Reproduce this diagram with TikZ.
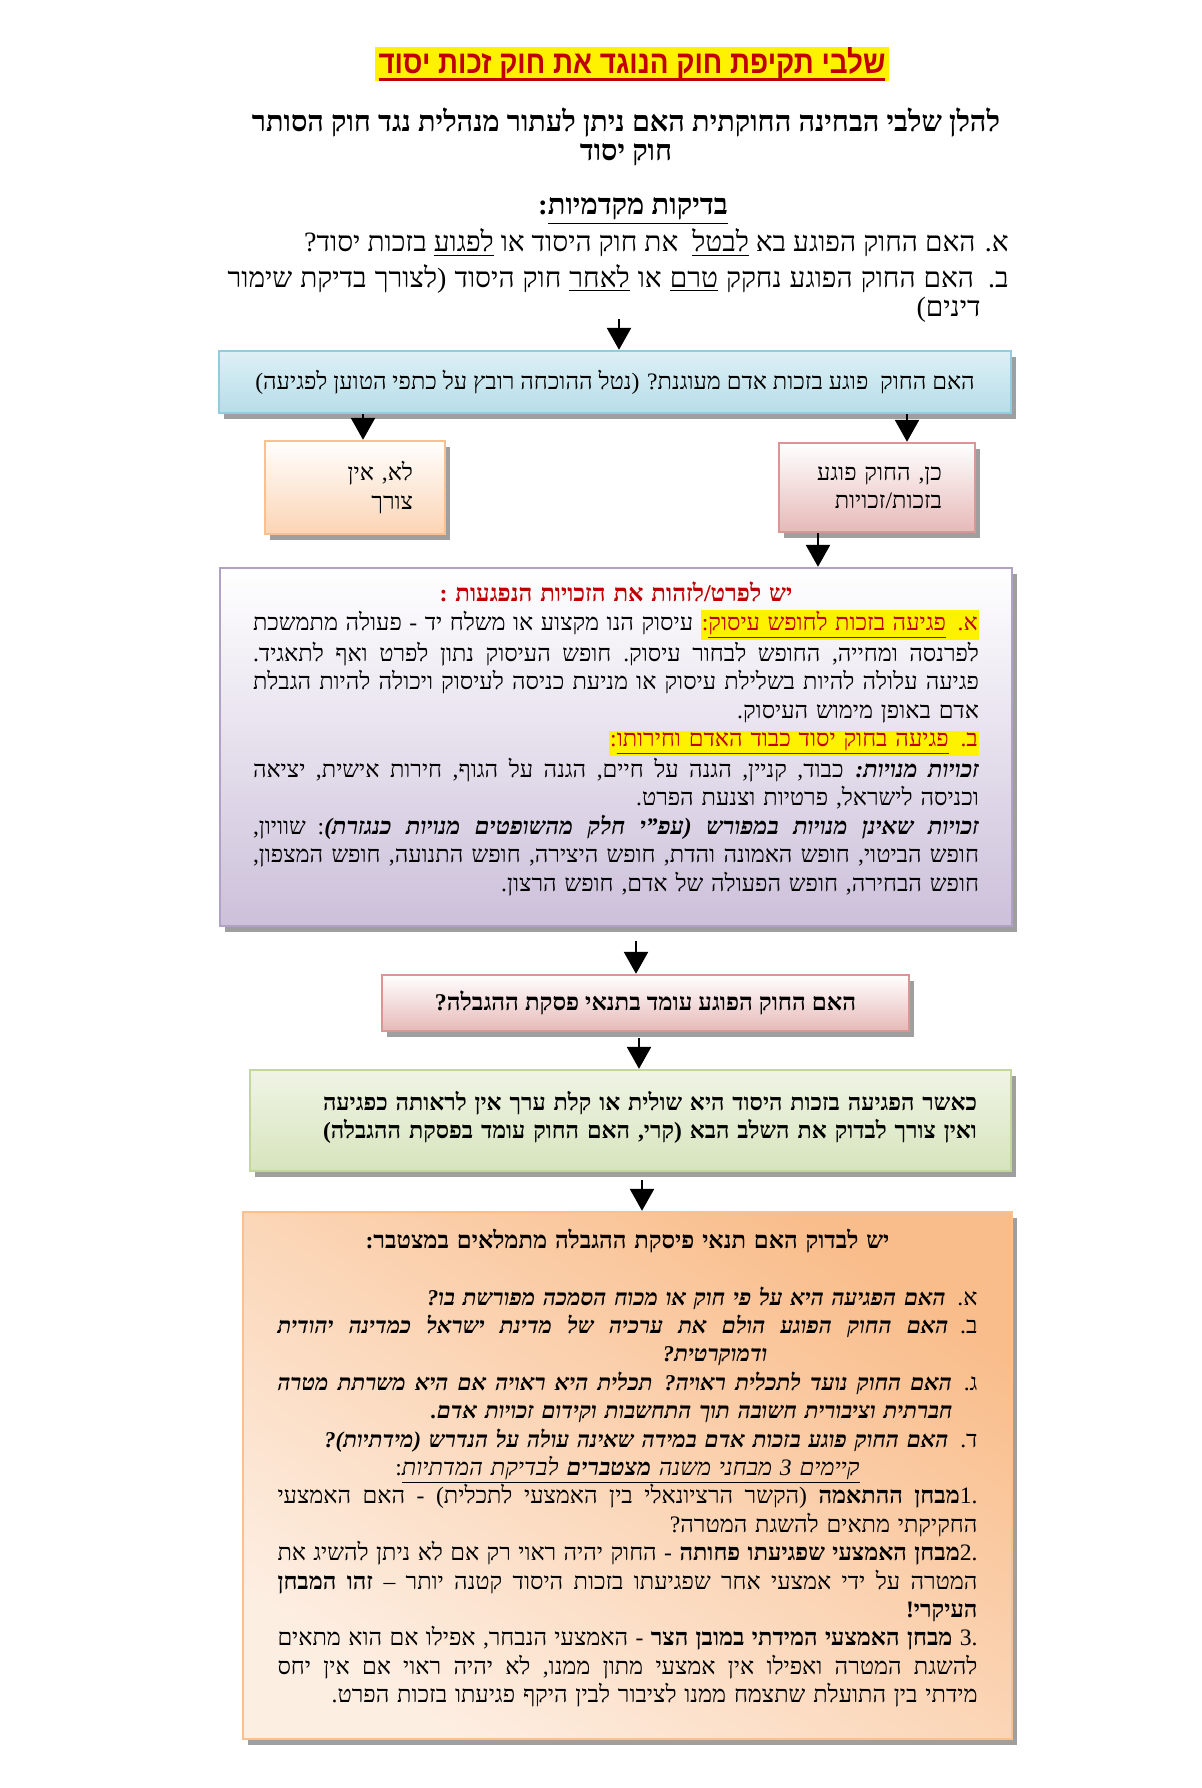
\documentclass[tikz,border=0pt]{standalone}
\usepackage{fontspec}
\setmainfont{Liberation Serif}[Script=Hebrew]
\newfontfamily\titlefont{Liberation Sans}[Script=Hebrew, FakeStretch=0.87]
\usetikzlibrary{arrows.meta,shadows}
\TeXXeTstate=1
\definecolor{darkred}{HTML}{C00000}
\definecolor{blueline}{HTML}{93CDDD}
\definecolor{bluetop}{HTML}{DDF0F5}
\definecolor{bluebot}{HTML}{B7DDE8}
\definecolor{orangeline}{HTML}{FAC090}
\definecolor{orangebot}{HTML}{FBD4B4}
\definecolor{pinkline}{HTML}{D99694}
\definecolor{pinkbot}{HTML}{E6B9B8}
\definecolor{purpleline}{HTML}{B2A1C7}
\definecolor{purplebot}{HTML}{CCC0DA}
\definecolor{greenline}{HTML}{C3D69B}
\definecolor{greenbot}{HTML}{D7E4BD}
\definecolor{peachtop}{HTML}{F9BD8B}
\definecolor{peachbot}{HTML}{FDEEE2}
\newbox\jboxa \newbox\jboxb \newdimen\jdima \newdimen\jdimb \newcount\jcnt
\newcommand\hjust[2][\hsize]{%
\setbox\jboxa\hbox{\spaceskip1pt\relax\beginR#2\endR}%
\setbox\jboxb\hbox{\spaceskip2pt\relax\beginR#2\endR}%
\jdima\wd\jboxb \advance\jdima-\wd\jboxa
\jcnt\jdima \divide\jcnt65536
\jdimb#1\relax \advance\jdimb-\wd\jboxa \advance\jdimb\jdima
\ifnum\jcnt>0 \divide\jdimb\jcnt \fi
\hbox to\hsize{\hss\spaceskip\jdimb\relax\beginR#2\endR}}
\newcommand\hright[1]{\hbox to\hsize{\hss\beginR#1\endR}}
\newcommand\hcent[1]{\hbox to\hsize{\hss\beginR#1\endR\hss}}
\newcommand\uln[1]{\underline{\beginR#1\endR}}
\newcommand\thickul[1]{\setbox0\hbox{\beginR#1\endR}\rlap{\vrule height-2.4pt depth3.6pt width\wd0}\box0}
\newcommand\hil[1]{\beginL{\setlength\fboxsep{0.6pt}\colorbox{yellow}{\color{darkred}\beginR#1\endR}}\endL}
\newcommand\bitq[1]{{\bfseries\itshape\fontsize{11.3}{14.2}\selectfont#1}}
\begin{document}
\begin{tikzpicture}[
	x=0.5pt, y=-0.5pt,
	boxbase/.style={ line width=1.2pt, inner sep=0pt, font=\fontsize{11.8}{14.2}\selectfont, drop shadow={shadow xshift=2.6pt, shadow yshift=-3pt, fill=black!50, opacity=.75} },
	bluebox/.style={ boxbase, draw=blueline, top color=bluetop, bottom color=bluebot },
	orangebox/.style={ boxbase, draw=orangeline, top color=white, bottom color=orangebot },
	pinkbox/.style={ boxbase, draw=pinkline, top color=white, bottom color=pinkbot },
	purplebox/.style={ boxbase, draw=purpleline, top color=white, bottom color=purplebot },
	greenbox/.style={ boxbase, draw=greenline, top color=white!60!greenbot, bottom color=greenbot },
	peachbox/.style={ boxbase, draw=orangeline, top color=peachtop, bottom color=peachbot, shading angle=-35 },
	pretext/.style={ inner sep=0pt, font=\fontsize{14}{14.5}\selectfont },
	flow/.style={ -{Triangle[width=12pt,length=11pt]}, line width=1.3pt }
]

\path[use as bounding box, fill=white] (0,0) rectangle (1201,1788);

\node at (632,64) (title) [fill=yellow, text=darkred, inner xsep=2pt, inner ysep=0pt, minimum width=255pt, minimum height=16pt, font=\titlefont\bfseries\fontsize{16}{18}\selectfont] {\thickul{שלבי תקיפת חוק הנוגד את חוק זכות יסוד}};

\node at (626,137) (sub) [align=center, inner sep=0pt, font=\bfseries\fontsize{14.4}{14.8}\selectfont] {\beginR להלן שלבי הבחינה החוקתית האם ניתן לעתור מנהלית נגד חוק הסותר\endR\\\beginR חוק יסוד\endR};

\node at (633,211) (prehead) [pretext, font=\bfseries\fontsize{14.5}{14.5}\selectfont] {\beginR\uln{בדיקות מקדמיות}:\endR};
\node at (1009,243) (prea) [pretext, anchor=east] {\beginR א. האם החוק הפוגע בא \uln{לבטל}\ \ את חוק היסוד או \uln{לפגוע} בזכות יסוד?\endR};
\node at (1009,293) (preb) [pretext, anchor=east, text width=390.5pt] {\vbox{
\hjust{ב. האם החוק הפוגע נחקק \uln{טרם} או \uln{לאחר} חוק היסוד (לצורך בדיקת שימור}
\hbox to\hsize{\hss\beginR דינים)\endR\hskip14pt}}};

\node at (615,382) (q1) [bluebox, minimum width=396pt, minimum height=31pt] {\beginR האם החוק\ \ פוגע בזכות אדם מעוגנת? (נטל ההוכחה רובץ על כתפי הטוען לפגיעה)\endR};
\coordinate (a1) at (619,319);
\draw[flow] (a1) to (a1 |- q1.north);

\node at (355,487.5) (no) [orangebox, minimum width=90pt, minimum height=46.5pt, text width=58pt] {\vbox{
\hright{לא, אין}
\hright{צורך}}};
\node at (877,487.5) (yes) [pinkbox, minimum width=98pt, minimum height=44.5pt, text width=65pt] {\vbox{
\hright{כן, החוק פוגע}
\hright{בזכות/זכויות}}};
\draw[flow] ([xshift=4pt]no.north |- q1.south) to ([xshift=4pt]no.north);
\draw[flow] ([xshift=15pt]yes.north |- q1.south) to ([xshift=15pt]yes.north);

\node at (616,747) (rights) [purplebox, minimum width=396pt, minimum height=179pt, text width=363pt] {\vbox{
\hbox to\hsize{\hss{\color{darkred}\bfseries\fontsize{12}{13}\selectfont\beginR יש לפרט/לזהות את הזכויות הנפגעות :\endR}\hss}
\hjust{\hil{א. \uln{פגיעה בזכות לחופש עיסוק}:} עיסוק הנו מקצוע או משלח יד - פעולה מתמשכת}
\hjust{לפרנסה ומחייה, החופש לבחור עיסוק. חופש העיסוק נתון לפרט ואף לתאגיד.}
\hjust{פגיעה עלולה להיות בשלילת עיסוק או מניעת כניסה לעיסוק ויכולה להיות הגבלת}
\hright{אדם באופן מימוש העיסוק.}
\hright{\hil{ב. \uln{פגיעה בחוק יסוד כבוד האדם וחירותו}:}}
\hjust{\textbf{\textit{זכויות מנויות:}} כבוד, קניין, הגנה על חיים, הגנה על הגוף, חירות אישית, יציאה}
\hright{וכניסה לישראל, פרטיות וצנעת הפרט.}
\hjust{\textbf{\textit{זכויות שאינן מנויות במפורש (עפ"י חלק מהשופטים מנויות כנגזרת)}}: שוויון,}
\hjust{חופש הביטוי, חופש האמונה והדת, חופש היצירה, חופש התנועה, חופש המצפון,}
\hright{חופש הבחירה, חופש הפעולה של אדם, חופש הרצון.}
\kern8pt}};
\draw[flow] ([xshift=-29.5pt]yes.south) to ([xshift=-29.5pt]yes.south |- rights.north);

\node at (645.5,1003) (q2) [pinkbox, minimum width=263.5pt, minimum height=28pt, font=\bfseries\fontsize{12}{14}\selectfont] {\beginR האם החוק הפוגע עומד בתנאי פסקת ההגבלה?\endR};
\draw[flow, shorten <=7pt] ([xshift=-4.75pt]q2.north |- rights.south) to ([xshift=-4.75pt]q2.north);

\node at (630.5,1120.5) (minor) [greenbox, minimum width=380.5pt, minimum height=50.5pt, text width=346.5pt, font=\bfseries\fontsize{11.7}{14}\selectfont] {\vbox{
\hjust[327pt]{כאשר הפגיעה בזכות היסוד היא שולית או קלת ערך אין לראותה כפגיעה}
\hjust[327pt]{ואין צורך לבדוק את השלב הבא (קרי, האם החוק עומד בפסקת ההגבלה)}
\kern3pt}};
\draw[flow, shorten <=3pt] ([xshift=-3.25pt]q2.south) to ([xshift=-3.25pt]q2.south |- minor.north);

\node at (627.5,1475.5) (limits) [peachbox, minimum width=384.5pt, minimum height=263.5pt, text width=350pt] {\vbox{
\hcent{\bfseries\fontsize{11.9}{13}\selectfont יש לבדוק האם תנאי פיסקת ההגבלה מתמלאים במצטבר:}
\hbox{}
\hright{א. \bitq{האם הפגיעה היא על פי חוק או מכוח הסמכה מפורשת בו?}}
\hjust{ב. \bitq{האם החוק הפוגע הולם את ערכיה של מדינת ישראל כמדינה יהודית}}
\hbox to\hsize{\hss\beginR\bitq{ודמוקרטית?}\endR\hskip105pt}
\hjust{ג. \bitq{האם החוק נועד לתכלית ראויה? תכלית היא ראויה אם היא משרתת מטרה}}
\hbox to\hsize{\hss\beginR\bitq{חברתית וציבורית חשובה תוך התחשבות וקידום זכויות אדם.}\endR\hskip12.5pt}
\hright{ד. \bitq{האם החוק פוגע בזכות אדם במידה שאינה עולה על הנדרש (מידתיות)?}}
\hcent{\uln{\textit{קיימים 3 מבחני משנה \textbf{מצטברים} לבדיקת המדתיות}}:}
\hjust{.1\textbf{מבחן ההתאמה} (הקשר הרציונאלי בין האמצעי לתכלית) - האם האמצעי}
\hright{החקיקתי מתאים להשגת המטרה?}
\hjust{.2\textbf{מבחן האמצעי שפגיעתו פחותה} - החוק יהיה ראוי רק אם לא ניתן להשיג את}
\hjust{המטרה על ידי אמצעי אחר שפגיעתו בזכות היסוד קטנה יותר – \textbf{זהו המבחן}}
\hright{\textbf{העיקרי!}}
\hjust{.3 \textbf{מבחן האמצעי המידתי במובן הצר} - האמצעי הנבחר, אפילו אם הוא מתאים}
\hjust{להשגת המטרה ואפילו אין אמצעי מתון ממנו, לא יהיה ראוי אם אין יחס}
\hright{מידתי בין התועלת שתצמח ממנו לציבור לבין היקף פגיעתו בזכות הפרט.}
\kern7.5pt}};
\draw[flow, shorten <=4pt] ([xshift=5.75pt]minor.south) to ([xshift=5.75pt]minor.south |- limits.north);

\end{tikzpicture}
\end{document}
